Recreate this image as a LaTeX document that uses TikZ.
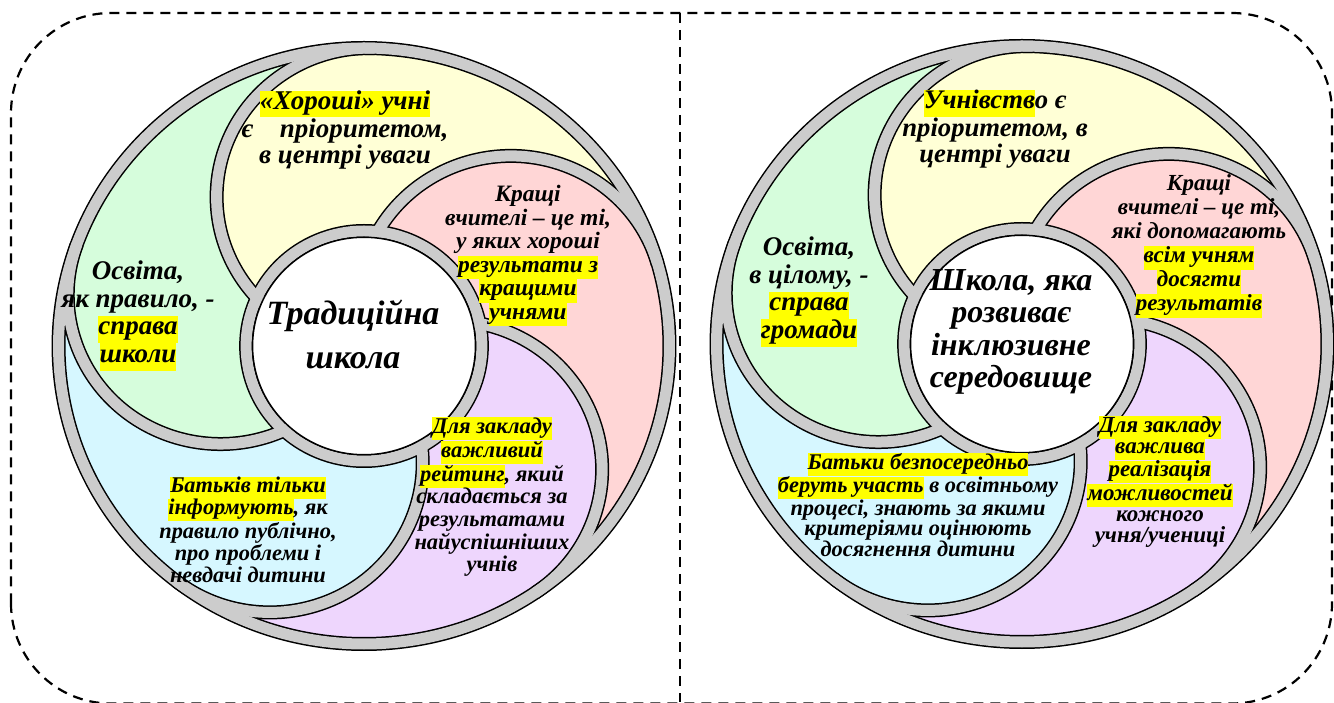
\documentclass[tikz,border=0pt]{standalone}
\usepackage{fontspec}
\setmainfont{Liberation Serif}
\usepackage{xcolor}
\usepackage{tikz}
\usetikzlibrary{positioning}
\definecolor{scGreen}{HTML}{D6FDDC}
\definecolor{scYellow}{HTML}{FFFFD6}
\definecolor{scPink}{HTML}{FFD6D6}
\definecolor{scPurple}{HTML}{EED6FD}
\definecolor{scCyan}{HTML}{D6F7FF}
\definecolor{scRing}{HTML}{CCCCCC}
\definecolor{scMark}{HTML}{FFFF00}
\newcommand{\scmark}[1]{{\setlength{\fboxsep}{0pt}\colorbox{scMark}{\strut#1}}}
\tikzset{
  sc diagram/.style={x=1pt, y=1pt, line cap=butt, line join=round},
  sc edge/.style={draw=black, line width=14pt},
  sc band/.style={draw=scRing, line width=11pt},
  sc frame/.style={draw=black, line width=2.2pt, dash pattern=on 10pt off 7pt},
  sc text/.style 2 args={align=center, inner sep=0pt, text=black,
    font=\bfseries\itshape\fontsize{#1}{#2}\selectfont}
}

\begin{document}
\begin{tikzpicture}[sc diagram]
\useasboundingbox (0,0) rectangle (1334,702);
\draw[sc frame, rounded corners=100pt] (11,-1.5) rectangle (1332,689);
\draw[sc frame] (680,689) -- (680,0);
% two swirl wheels, five petals each
\foreach \cx/\cy in {364/356,1022/358}{
  \begin{scope}[shift={(\cx,\cy)}, xscale=1.025]
    \foreach \t/\col in {16/scYellow,88/scGreen,160/scCyan,232/scPurple,304/scPink}
      \fill[\col] (\t:298) arc[start angle=\t, end angle=\t+134.6, radius=149]
        arc[start angle=\t+67.3, end angle=\t+139.3, radius=115]
        arc[start angle=\t+206.6, end angle=\t+72, radius=149]
        arc[start angle=\t+72, end angle=\t, radius=298] -- cycle;
    \foreach \pass in {sc edge,sc band}{
      \draw[\pass] (0,0) circle[radius=298];
      \draw[\pass] (0,0) circle[radius=115];
      \foreach \t in {16,88,160,232,304}
        \draw[\pass] (\t:298) arc[start angle=\t, end angle=\t+140.8, radius=149];
    }
    \draw[line width=1.5pt, fill=white] (0,0) circle[radius=108.75];
  \end{scope}
}
% traditional school
\node[sc text={34}{44}] (lCore) at (353,368) {Традиційна\\школа};
\node[sc text={27}{26.5}] (lPupils) at (345,572)
  {\scmark{«Хороші» учні}\\є\quad пріоритетом,\\в центрі уваги};
\node[sc text={27}{27.5}] (lEducation) at (138,386)
  {Освіта,\\як правило, -\\\scmark{справа}\\\scmark{школи}};
\node[sc text={23.5}{23.5}] (lTeachers) at (528,446)
  {Кращі\\вчителі – це ті,\\у яких хороші\\\scmark{результати з}\\\scmark{кращими}\\\scmark{учнями}};
\node[sc text={22.5}{22.7}] (lRating) at (492,205)
  {\scmark{Для закладу}\\\scmark{важливий}\\\scmark{рейтинг}, який\\складається за\\результатами\\найуспішніших\\учнів};
\node[sc text={22.4}{22.3}] (lParents) at (248,172)
  {\scmark{Батьків тільки}\\\scmark{інформують}, як\\правило публічно,\\про проблеми і\\невдачі дитини};
% inclusive school
\node[sc text={32}{32.5}] (rCore) at (1011,370)
  {Школа, яка\\розвиває\\інклюзивне\\середовище};
\node[sc text={26.7}{26}] (rPupils) at (995,573)
  {\scmark{Учнівств}о є\\пріоритетом, в\\центрі уваги};
\node[sc text={27}{27.5}] (rEducation) at (809,410)
  {Освіта,\\в цілому, -\\\scmark{справа}\\\scmark{громади}};
\node[sc text={23}{24}] (rTeachers) at (1199,456)
  {Кращі\\вчителі – це ті,\\які допомагають\\\scmark{всім учням}\\\scmark{досягти}\\\scmark{результатів}};
\node[sc text={23}{21}] (rChances) at (1160,220)
  {\scmark{Для закладу}\\\scmark{важлива}\\\scmark{реалізація}\\\scmark{можливостей}\\кожного\\учня/учениці};
\node[sc text={22.4}{20.5}] (rParents) at (918,197)
  {\scmark{Батьки безпосередньо}\\\scmark{беруть участь} в освітньому\\процесі, знають за якими\\критеріями оцінюють\\досягнення дитини};
\end{tikzpicture}
\end{document}
